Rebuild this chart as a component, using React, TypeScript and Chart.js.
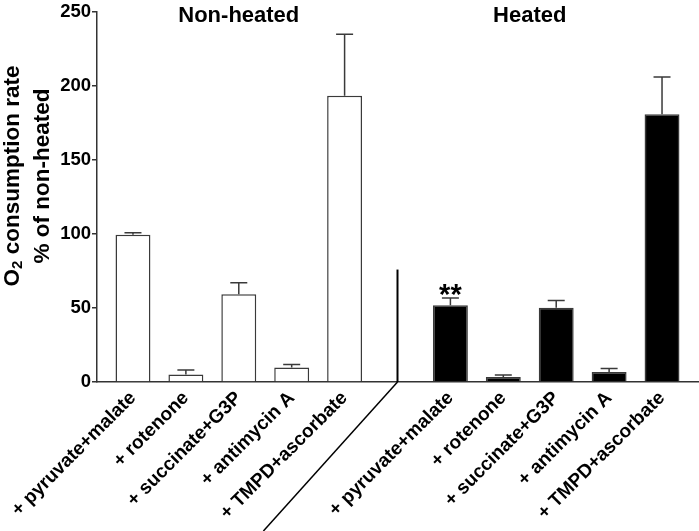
import React, { useEffect, useRef } from 'react';
import { Chart, registerables } from 'chart.js';

Chart.register(...registerables);

const treatments = ['+ pyruvate+malate', '+ rotenone', '+ succinate+G3P', '+ antimycin A', '+ TMPD+ascorbate'];
const groupTitles = ['Non-heated', 'Heated'];
const nonHeatedMean = [99.6, 5.1, 59.3, 9.8, 193.5];
const nonHeatedSem = [1.3, 3.0, 7.7, 2.0, 41.6];
const heatedMean = [51.8, 3.3, 50.2, 6.7, 181.0];
const heatedSem = [4.9, 1.4, 4.9, 2.4, 25.2];
const heatedSignificance = ['**', '', '', '', ''];
const yTicks = [0, 50, 100, 150, 200, 250];
const yTitleLine1 = ['O', '2', ' consumption rate'];
const yTitleLine2 = '% of non-heated';

const FONT = "'Liberation Sans', Arial, Helvetica, sans-serif";
const n = treatments.length;
const nhX = treatments.map((_, i) => i);
const hX = treatments.map((_, i) => i + n + 1);
const gapX = n;
const tickPositions = [...nhX, ...hX];
const tickText: Record<number, string> = {};
nhX.forEach((p, i) => (tickText[p] = treatments[i]));
hX.forEach((p, i) => (tickText[p] = treatments[i]));

const decorPlugin = {
  id: 'decor',
  afterDatasetsDraw(chart: any) {
    const ctx = chart.ctx as CanvasRenderingContext2D;
    const xs = chart.scales.x;
    const ys = chart.scales.y;
    const sems = [nonHeatedSem, heatedSem];
    ctx.save();
    // error bars
    chart.data.datasets.forEach((ds: any, di: number) => {
      const meta = chart.getDatasetMeta(di);
      meta.data.forEach((el: any, i: number) => {
        const v = ds.data[i].y;
        const top = ys.getPixelForValue(v + sems[di][i]);
        const base = ys.getPixelForValue(v);
        ctx.strokeStyle = '#3a3a3a';
        ctx.lineWidth = 1.5;
        ctx.beginPath();
        ctx.moveTo(el.x, base);
        ctx.lineTo(el.x, top);
        ctx.moveTo(el.x - 8.5, top);
        ctx.lineTo(el.x + 8.5, top);
        ctx.stroke();
      });
    });
    // significance
    ctx.fillStyle = '#000';
    ctx.font = `bold 29px ${FONT}`;
    ctx.textAlign = 'center';
    ctx.textBaseline = 'alphabetic';
    heatedSignificance.forEach((s, i) => {
      if (!s) return;
      const px = xs.getPixelForValue(hX[i]);
      const py = ys.getPixelForValue(heatedMean[i] + heatedSem[i]) + 6;
      ctx.fillText(s, px, py);
    });
    // group titles
    ctx.font = `bold 22px ${FONT}`;
    const titleX = [nhX[Math.floor(n / 2)], hX[Math.floor(n / 2)] - 0.5];
    groupTitles.forEach((t, i) => {
      ctx.fillText(t, xs.getPixelForValue(titleX[i]), ys.getPixelForValue(243));
    });
    // separator lines
    const sx = xs.getPixelForValue(gapX);
    const y0 = ys.getPixelForValue(0);
    ctx.strokeStyle = '#000';
    ctx.lineWidth = 2;
    ctx.beginPath();
    ctx.moveTo(sx, ys.getPixelForValue(76));
    ctx.lineTo(sx, y0);
    ctx.stroke();
    ctx.lineWidth = 1.5;
    ctx.beginPath();
    ctx.moveTo(sx, y0);
    ctx.lineTo(sx - (chart.height - y0) * 0.9, chart.height);
    ctx.stroke();
    // y title
    ctx.fillStyle = '#000';
    ctx.textBaseline = 'middle';
    ctx.translate(13, 176);
    ctx.rotate(-Math.PI / 2);
    const bigFont = `bold 22.5px ${FONT}`;
    const subFont = `bold 15px ${FONT}`;
    ctx.font = bigFont;
    const w0 = ctx.measureText(yTitleLine1[0]).width;
    const w2 = ctx.measureText(yTitleLine1[2]).width;
    ctx.font = subFont;
    const w1 = ctx.measureText(yTitleLine1[1]).width;
    let cx = -(w0 + w1 + w2) / 2;
    ctx.textAlign = 'left';
    ctx.font = bigFont;
    ctx.fillText(yTitleLine1[0], cx, 0);
    cx += w0;
    ctx.font = subFont;
    ctx.fillText(yTitleLine1[1], cx, 5);
    cx += w1;
    ctx.font = bigFont;
    ctx.fillText(yTitleLine1[2], cx, 0);
    ctx.textAlign = 'center';
    ctx.fillText(yTitleLine2, 0, 30);
    ctx.restore();
  },
};

export default function App() {
  const ref = useRef<HTMLCanvasElement>(null);
  useEffect(() => {
    document.body.style.margin = '0';
    const chart = new Chart(ref.current!, {
      type: 'bar',
      data: {
        datasets: [
          {
            label: groupTitles[0],
            data: nhX.map((x, i) => ({ x, y: nonHeatedMean[i] })),
            backgroundColor: '#ffffff',
            borderColor: '#3a3a3a',
            borderWidth: 1.5,
            stack: 'all',
            categoryPercentage: 1,
            barPercentage: 0.66,
          },
          {
            label: groupTitles[1],
            data: hX.map((x, i) => ({ x, y: heatedMean[i] })),
            backgroundColor: '#000000',
            borderColor: '#3a3a3a',
            borderWidth: 1.5,
            stack: 'all',
            categoryPercentage: 1,
            barPercentage: 0.66,
          },
        ],
      },
      options: {
        animation: false,
        responsive: false,
        layout: { padding: { top: 7, right: 1, left: 0, bottom: 0 } },
        plugins: { legend: { display: false }, tooltip: { enabled: false } },
        scales: {
          x: {
            type: 'linear',
            offset: false,
            min: -0.68,
            max: tickPositions[tickPositions.length - 1] + 0.68,
            grid: { display: false, drawTicks: false },
            border: { display: true, color: '#333', width: 1.5 },
            afterBuildTicks: (scale: any) => {
              scale.ticks = tickPositions.map((v) => ({ value: v }));
            },
            afterFit: (scale: any) => {
              scale.height = 149;
            },
            ticks: {
              autoSkip: false,
              minRotation: 45,
              maxRotation: 45,
              padding: 5,
              color: '#000',
              font: { family: FONT, size: 19, weight: 'bold' },
              callback: (v: any) => tickText[v] ?? '',
            },
          },
          y: {
            min: yTicks[0],
            max: yTicks[yTicks.length - 1],
            stacked: false,
            afterBuildTicks: (scale: any) => {
              scale.ticks = yTicks.map((v) => ({ value: v }));
            },
            afterFit: (scale: any) => {
              scale.width = 97;
            },
            grid: { drawOnChartArea: false, drawTicks: true, tickLength: 5, color: '#333', lineWidth: 1.5 },
            border: { display: true, color: '#333', width: 1.5 },
            ticks: {
              padding: 1,
              color: '#000',
              font: { family: FONT, size: 18.5, weight: 'bold' },
            },
          },
        },
      } as any,
      plugins: [decorPlugin],
    });
    return () => chart.destroy();
  }, []);
  return (
    <div style={{ width: 699, height: 531 }}>
      <canvas ref={ref} width={699} height={531} />
    </div>
  );
}
